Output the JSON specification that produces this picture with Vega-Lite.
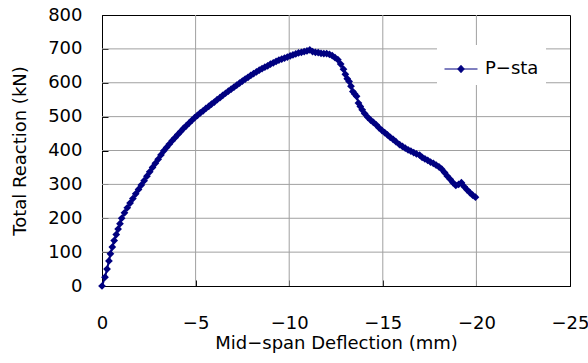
{
  "$schema": "https://vega.github.io/schema/vega-lite/v6.json",
  "width": 468,
  "height": 271,
  "autosize": {"type": "none"},
  "padding": {"left": 102, "top": 15, "right": 18, "bottom": 77},
  "background": "white",
  "config": {
    "font": "DejaVu Sans",
    "view": {"stroke": "black", "strokeWidth": 1},
    "axis": {
      "domainColor": "black",
      "ticks": true,
      "tickSize": -6,
      "tickColor": "black",
      "grid": false,
      "labelFlush": false,
      "labelColor": "black",
      "titleColor": "black",
      "titleFontWeight": "normal",
      "labelFont": "DejaVu Sans",
      "titleFont": "DejaVu Sans",
      "labelFontSize": 18,
      "titleFontSize": 18
    }
  },
  "datasets": {
    "xgrid": [{"g": -5}, {"g": -10}, {"g": -15}, {"g": -20}],
    "ygrid": [{"g": 100}, {"g": 200}, {"g": 300}, {"g": 400}, {"g": 500}, {"g": 600}, {"g": 700}]
  },
  "layer": [
    {
      "data": {"name": "xgrid"},
      "mark": {"type": "rule", "color": "#a0a0a0", "strokeWidth": 1},
      "encoding": {
        "x": {
          "field": "g",
          "type": "quantitative",
          "scale": {"domain": [-25, 0], "reverse": true, "nice": false},
          "axis": {
            "values": [0, -5, -10, -15, -20, -25],
            "title": "Mid−span Deflection (mm)",
            "labelPadding": 34,
            "titlePadding": 2
          }
        }
      }
    },
    {
      "data": {"name": "ygrid"},
      "mark": {"type": "rule", "color": "#a0a0a0", "strokeWidth": 1},
      "encoding": {
        "y": {
          "field": "g",
          "type": "quantitative",
          "scale": {"domain": [0, 800], "nice": false},
          "axis": {
            "values": [0, 100, 200, 300, 400, 500, 600, 700, 800],
            "title": "Total Reaction (kN)",
            "labelPadding": 26,
            "titlePadding": 18
          }
        }
      }
    },
    {
      "data": {
        "values": [
          {"d": 0, "p": 0, "series": "P−sta"},
          {"d": -0.16, "p": 26, "series": "P−sta"},
          {"d": -0.27, "p": 50, "series": "P−sta"},
          {"d": -0.37, "p": 74, "series": "P−sta"},
          {"d": -0.45, "p": 95, "series": "P−sta"},
          {"d": -0.55, "p": 115, "series": "P−sta"},
          {"d": -0.65, "p": 134, "series": "P−sta"},
          {"d": -0.76, "p": 152, "series": "P−sta"},
          {"d": -0.86, "p": 168, "series": "P−sta"},
          {"d": -0.96, "p": 184, "series": "P−sta"},
          {"d": -1.05, "p": 200, "series": "P−sta"},
          {"d": -1.2, "p": 216, "series": "P−sta"},
          {"d": -1.35, "p": 231, "series": "P−sta"},
          {"d": -1.5, "p": 245, "series": "P−sta"},
          {"d": -1.65, "p": 258, "series": "P−sta"},
          {"d": -1.8, "p": 272, "series": "P−sta"},
          {"d": -1.95, "p": 285, "series": "P−sta"},
          {"d": -2.1, "p": 298, "series": "P−sta"},
          {"d": -2.25, "p": 311, "series": "P−sta"},
          {"d": -2.4, "p": 324, "series": "P−sta"},
          {"d": -2.55, "p": 337, "series": "P−sta"},
          {"d": -2.7, "p": 350, "series": "P−sta"},
          {"d": -2.85, "p": 362, "series": "P−sta"},
          {"d": -3.0, "p": 374, "series": "P−sta"},
          {"d": -3.15, "p": 387, "series": "P−sta"},
          {"d": -3.3, "p": 399, "series": "P−sta"},
          {"d": -3.45, "p": 409, "series": "P−sta"},
          {"d": -3.6, "p": 419, "series": "P−sta"},
          {"d": -3.75, "p": 429, "series": "P−sta"},
          {"d": -3.9, "p": 438, "series": "P−sta"},
          {"d": -4.05, "p": 447, "series": "P−sta"},
          {"d": -4.2, "p": 456, "series": "P−sta"},
          {"d": -4.35, "p": 465, "series": "P−sta"},
          {"d": -4.5, "p": 473, "series": "P−sta"},
          {"d": -4.65, "p": 481, "series": "P−sta"},
          {"d": -4.8, "p": 489, "series": "P−sta"},
          {"d": -4.95, "p": 497, "series": "P−sta"},
          {"d": -5.1, "p": 504, "series": "P−sta"},
          {"d": -5.25, "p": 511, "series": "P−sta"},
          {"d": -5.4, "p": 517, "series": "P−sta"},
          {"d": -5.55, "p": 524, "series": "P−sta"},
          {"d": -5.7, "p": 530, "series": "P−sta"},
          {"d": -5.85, "p": 537, "series": "P−sta"},
          {"d": -6.0, "p": 543, "series": "P−sta"},
          {"d": -6.15, "p": 550, "series": "P−sta"},
          {"d": -6.3, "p": 556, "series": "P−sta"},
          {"d": -6.45, "p": 563, "series": "P−sta"},
          {"d": -6.6, "p": 569, "series": "P−sta"},
          {"d": -6.75, "p": 575, "series": "P−sta"},
          {"d": -6.9, "p": 581, "series": "P−sta"},
          {"d": -7.05, "p": 587, "series": "P−sta"},
          {"d": -7.2, "p": 593, "series": "P−sta"},
          {"d": -7.35, "p": 599, "series": "P−sta"},
          {"d": -7.5, "p": 605, "series": "P−sta"},
          {"d": -7.65, "p": 611, "series": "P−sta"},
          {"d": -7.8, "p": 616, "series": "P−sta"},
          {"d": -7.95, "p": 622, "series": "P−sta"},
          {"d": -8.1, "p": 627, "series": "P−sta"},
          {"d": -8.25, "p": 632, "series": "P−sta"},
          {"d": -8.4, "p": 637, "series": "P−sta"},
          {"d": -8.55, "p": 642, "series": "P−sta"},
          {"d": -8.7, "p": 646, "series": "P−sta"},
          {"d": -8.85, "p": 650, "series": "P−sta"},
          {"d": -9.0, "p": 655, "series": "P−sta"},
          {"d": -9.15, "p": 659, "series": "P−sta"},
          {"d": -9.3, "p": 663, "series": "P−sta"},
          {"d": -9.45, "p": 667, "series": "P−sta"},
          {"d": -9.6, "p": 670, "series": "P−sta"},
          {"d": -9.75, "p": 673, "series": "P−sta"},
          {"d": -9.9, "p": 676, "series": "P−sta"},
          {"d": -10.05, "p": 679, "series": "P−sta"},
          {"d": -10.2, "p": 682, "series": "P−sta"},
          {"d": -10.35, "p": 685, "series": "P−sta"},
          {"d": -10.5, "p": 688, "series": "P−sta"},
          {"d": -10.65, "p": 690, "series": "P−sta"},
          {"d": -10.8, "p": 692, "series": "P−sta"},
          {"d": -10.95, "p": 694, "series": "P−sta"},
          {"d": -11.1, "p": 697, "series": "P−sta"},
          {"d": -11.25, "p": 692, "series": "P−sta"},
          {"d": -11.4, "p": 690, "series": "P−sta"},
          {"d": -11.55, "p": 689, "series": "P−sta"},
          {"d": -11.7, "p": 687, "series": "P−sta"},
          {"d": -11.85, "p": 686, "series": "P−sta"},
          {"d": -12.0, "p": 686, "series": "P−sta"},
          {"d": -12.15, "p": 684, "series": "P−sta"},
          {"d": -12.3, "p": 680, "series": "P−sta"},
          {"d": -12.45, "p": 674, "series": "P−sta"},
          {"d": -12.6, "p": 668, "series": "P−sta"},
          {"d": -12.75, "p": 655, "series": "P−sta"},
          {"d": -12.9, "p": 640, "series": "P−sta"},
          {"d": -13.0, "p": 625, "series": "P−sta"},
          {"d": -13.1, "p": 612, "series": "P−sta"},
          {"d": -13.2, "p": 604, "series": "P−sta"},
          {"d": -13.3, "p": 590, "series": "P−sta"},
          {"d": -13.4, "p": 574, "series": "P−sta"},
          {"d": -13.5, "p": 567, "series": "P−sta"},
          {"d": -13.6, "p": 560, "series": "P−sta"},
          {"d": -13.7, "p": 540, "series": "P−sta"},
          {"d": -13.8, "p": 530, "series": "P−sta"},
          {"d": -13.9, "p": 520, "series": "P−sta"},
          {"d": -14.03, "p": 509, "series": "P−sta"},
          {"d": -14.2, "p": 498, "series": "P−sta"},
          {"d": -14.35, "p": 490, "series": "P−sta"},
          {"d": -14.5, "p": 483, "series": "P−sta"},
          {"d": -14.65, "p": 476, "series": "P−sta"},
          {"d": -14.8, "p": 467, "series": "P−sta"},
          {"d": -14.96, "p": 459, "series": "P−sta"},
          {"d": -15.1, "p": 453, "series": "P−sta"},
          {"d": -15.25, "p": 446, "series": "P−sta"},
          {"d": -15.4, "p": 439, "series": "P−sta"},
          {"d": -15.55, "p": 433, "series": "P−sta"},
          {"d": -15.7, "p": 426, "series": "P−sta"},
          {"d": -15.9, "p": 417, "series": "P−sta"},
          {"d": -16.05, "p": 412, "series": "P−sta"},
          {"d": -16.2, "p": 407, "series": "P−sta"},
          {"d": -16.35, "p": 402, "series": "P−sta"},
          {"d": -16.5, "p": 398, "series": "P−sta"},
          {"d": -16.65, "p": 394, "series": "P−sta"},
          {"d": -16.8, "p": 390, "series": "P−sta"},
          {"d": -16.97, "p": 386, "series": "P−sta"},
          {"d": -17.1, "p": 380, "series": "P−sta"},
          {"d": -17.25, "p": 375, "series": "P−sta"},
          {"d": -17.4, "p": 371, "series": "P−sta"},
          {"d": -17.55, "p": 366, "series": "P−sta"},
          {"d": -17.7, "p": 362, "series": "P−sta"},
          {"d": -17.85, "p": 357, "series": "P−sta"},
          {"d": -18.0, "p": 352, "series": "P−sta"},
          {"d": -18.15, "p": 345, "series": "P−sta"},
          {"d": -18.3, "p": 335, "series": "P−sta"},
          {"d": -18.45, "p": 324, "series": "P−sta"},
          {"d": -18.6, "p": 315, "series": "P−sta"},
          {"d": -18.75, "p": 305, "series": "P−sta"},
          {"d": -18.9, "p": 297, "series": "P−sta"},
          {"d": -19.05, "p": 300, "series": "P−sta"},
          {"d": -19.2, "p": 305, "series": "P−sta"},
          {"d": -19.35, "p": 293, "series": "P−sta"},
          {"d": -19.5, "p": 284, "series": "P−sta"},
          {"d": -19.65, "p": 276, "series": "P−sta"},
          {"d": -19.8, "p": 268, "series": "P−sta"},
          {"d": -19.95, "p": 262, "series": "P−sta"}
        ]
      },
      "mark": {
        "type": "line",
        "strokeWidth": 2,
        "point": {"shape": "diamond", "size": 60, "filled": true, "opacity": 1}
      },
      "encoding": {
        "x": {
          "field": "d",
          "type": "quantitative",
          "scale": {"domain": [-25, 0], "reverse": true, "nice": false},
          "axis": {
            "values": [0, -5, -10, -15, -20, -25],
            "title": "Mid−span Deflection (mm)",
            "labelPadding": 34,
            "titlePadding": 2
          }
        },
        "y": {
          "field": "p",
          "type": "quantitative",
          "scale": {"domain": [0, 800], "nice": false},
          "axis": {
            "values": [0, 100, 200, 300, 400, 500, 600, 700, 800],
            "title": "Total Reaction (kN)",
            "labelPadding": 26,
            "titlePadding": 18
          }
        },
        "color": {
          "field": "series",
          "type": "nominal",
          "scale": {"range": ["#000080"]},
          "legend": {
            "title": null,
            "orient": "none",
            "legendX": 335,
            "legendY": 30,
            "padding": 7,
            "fillColor": "white",
            "strokeColor": null,
            "symbolType": "M-1,0L1,0M-0.2,0L0,-0.22L0.2,0L0,0.22Z",
            "symbolSize": 1089,
            "symbolStrokeWidth": 1,
            "symbolFillColor": "#000080",
            "symbolStrokeColor": "#000080",
            "labelFontSize": 18,
            "labelOffset": 7,
            "labelFont": "DejaVu Sans",
            "labelColor": "black"
          }
        }
      }
    }
  ]
}
